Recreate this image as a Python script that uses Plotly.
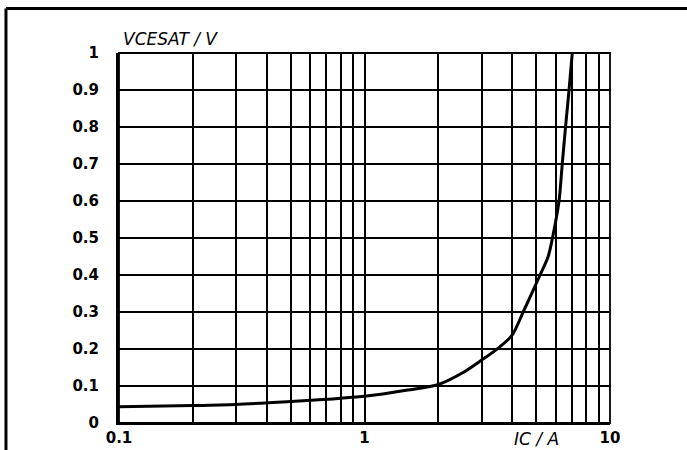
import plotly.graph_objects as go

# Collector current (A) and collector-emitter saturation voltage (V)
ic_amps = [0.1, 0.2, 0.3, 0.5, 0.7, 1.0, 1.5, 2.0, 2.5, 3.0, 3.56, 4.0, 4.43,
           5.19, 5.6, 5.87, 6.2, 6.39, 6.59, 6.81, 7.02]
vcesat_volts = [0.044, 0.047, 0.050, 0.058, 0.064, 0.072, 0.089, 0.104, 0.135,
                0.170, 0.206, 0.238, 0.300, 0.400, 0.450, 0.510, 0.600, 0.700,
                0.800, 0.900, 1.000]

# Log grid lines on the current axis; only the decades carry labels
x_grid = [0.1, 0.2, 0.3, 0.4, 0.5, 0.6, 0.7, 0.8, 0.9,
          1, 2, 3, 4, 5, 6, 7, 8, 9, 10]
x_labels = ["0.1", "", "", "", "", "", "", "", "",
            "1", "", "", "", "", "", "", "", "", "10"]
y_grid = [0, 0.1, 0.2, 0.3, 0.4, 0.5, 0.6, 0.7, 0.8, 0.9, 1]
y_labels = ["0", "0.1", "0.2", "0.3", "0.4", "0.5", "0.6", "0.7", "0.8", "0.9", "1"]

tick_font = dict(family="DejaVu Sans", size=15, color="black", weight="bold")
title_font = dict(family="DejaVu Sans", size=17, color="black")

fig = go.Figure(
    go.Scatter(
        x=ic_amps, y=vcesat_volts, mode="lines",
        line=dict(color="black", width=3, shape="spline", smoothing=0.8),
        hoverinfo="skip",
    )
)

fig.update_layout(
    width=687, height=450,
    margin=dict(l=119, r=77, t=53, b=27),
    paper_bgcolor="white", plot_bgcolor="white",
    showlegend=False,
    xaxis=dict(
        type="log", range=[-1, 1], automargin=False,
        tickvals=x_grid, ticktext=x_labels,
        showgrid=True, gridcolor="black", gridwidth=1.6,
        showline=True, linecolor="black", linewidth=2,
        zeroline=False, ticks="", ticklabelstandoff=0,
        tickfont=tick_font,
    ),
    yaxis=dict(
        range=[0, 1], automargin=False,
        tickvals=y_grid, ticktext=y_labels,
        showgrid=True, gridcolor="black", gridwidth=1.6,
        showline=True, linecolor="black", linewidth=3,
        zeroline=False, ticks="", ticklabelstandoff=14,
        tickfont=tick_font,
    ),
    shapes=[
        # plot-area border on the top and right
        dict(type="rect", xref="x domain", yref="y domain",
             x0=0, x1=1, y0=0, y1=1, line=dict(color="black", width=1.8)),
        # outer frame: left and top rules
        dict(type="line", xref="paper", yref="paper",
             x0=-0.2302, x1=-0.2302, y0=-0.1, y1=1.1203,
             line=dict(color="black", width=3)),
        dict(type="line", xref="paper", yref="paper",
             x0=-0.2302, x1=1.2, y0=1.1203, y1=1.1203,
             line=dict(color="black", width=3)),
    ],
    annotations=[
        dict(text="<i>VCESAT / V</i>", xref="paper", yref="paper",
             x=0.004, y=1.0, xanchor="left", yanchor="bottom", yshift=2,
             showarrow=False, font=title_font),
        dict(text="<i>IC / A</i>", xref="paper", yref="paper",
             x=0.851, y=0.0, xanchor="center", yanchor="top", yshift=-5,
             showarrow=False, font=title_font, borderpad=0),
    ],
)

fig.write_html("out.html")
